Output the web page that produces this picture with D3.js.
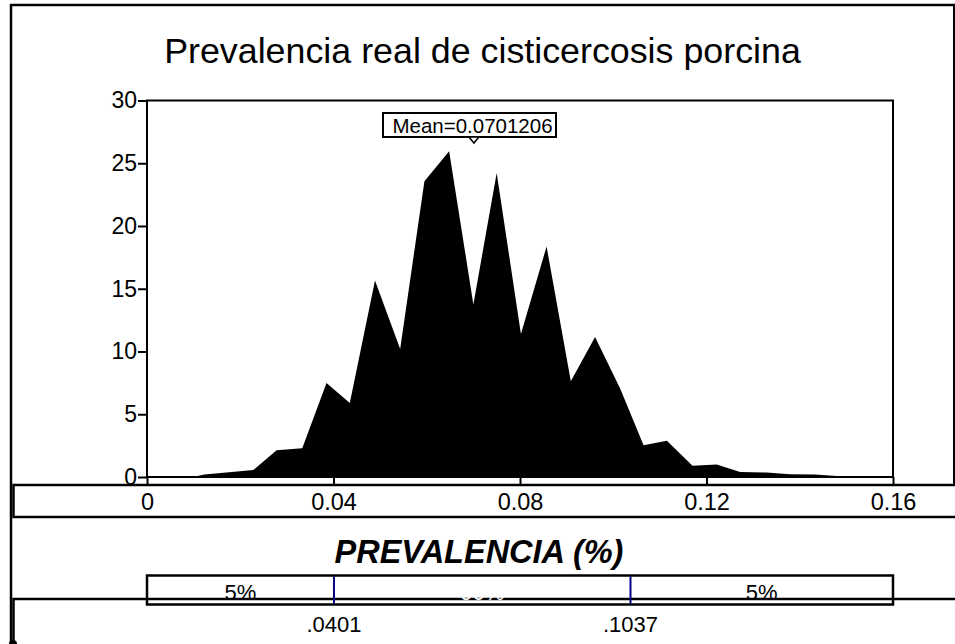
<!DOCTYPE html>
<html>
<head>
<meta charset="utf-8">
<script src="https://cdn.jsdelivr.net/npm/d3@7"></script>
<style>
  body { margin: 0; background: #fff; }
  svg { display: block; font-family: "Liberation Sans", Arial, sans-serif; }
</style>
</head>
<body>
<div id="chart"></div>
<script>
// prevalence values (x) and density (y)
const prevalence = [0, 0.0099, 0.0123, 0.0176, 0.0228, 0.0278, 0.0333, 0.0385, 0.0435, 0.0489,
  0.0543, 0.0595, 0.0648, 0.0700, 0.0750, 0.0802, 0.0857, 0.0909, 0.0961, 0.1015,
  0.1065, 0.1115, 0.1170, 0.1222, 0.1272, 0.1329, 0.1379, 0.1433, 0.1487, 0.16]
const density = [0, 0, 0.2, 0.38, 0.55, 2.13, 2.3, 7.5, 5.9, 15.66,
  10.2, 23.57, 25.96, 13.75, 24.23, 11.4, 18.37, 7.62, 11.15, 7.03,
  2.52, 2.89, 0.9, 1.0, 0.4, 0.35, 0.21, 0.19, 0.05, 0]
const xTicks = [0, 0.04, 0.08, 0.12, 0.16]
const xTickLabels = ["0", "0.04", "0.08", "0.12", "0.16"]
const yTicks = [0, 5, 10, 15, 20, 25, 30]
const meanValue = 0.0701206
const pctCuts = [0.0401, 0.1037]
const pctCutLabels = [".0401", ".1037"]
const pctBands = ["5%", "90%", "5%"]

const width = 955, height = 644
const svg = d3.select("#chart").append("svg")
    .attr("width", width)
    .attr("height", height)

const x = d3.scaleLinear().domain([0, 0.16]).range([147, 893])
const y = d3.scaleLinear().domain([0, 30]).range([477, 100.5])

// outer frame
svg.append("path")
    .attr("d", `M11,644 V5 H955`)
    .attr("fill", "none").attr("stroke", "#000").attr("stroke-width", 2.5)
svg.append("path")
    .attr("d", `M954,5 V485`)
    .attr("fill", "none").attr("stroke", "#000").attr("stroke-width", 2)

svg.append("text")
    .attr("x", 482.5).attr("y", 63)
    .attr("text-anchor", "middle")
    .style("font-size", "35.8px")
    .text("Prevalencia real de cisticercosis porcina")

// x axis band
svg.append("path")
    .attr("d", "M955,485 H13.5 V517 H955")
    .attr("fill", "none").attr("stroke", "#000").attr("stroke-width", 2.5)

// histogram outline as filled area
const area = d3.area()
    .x((d, i) => x(prevalence[i]))
    .y0(y(0))
    .y1(d => y(d))
svg.append("path")
    .datum(density)
    .attr("d", area)
    .attr("fill", "#000")

// plot box
svg.append("rect")
    .attr("x", x(0)).attr("y", y(30))
    .attr("width", x(0.16) - x(0)).attr("height", y(0) - y(30))
    .attr("fill", "none").attr("stroke", "#000").attr("stroke-width", 2)

const yAxis = svg.append("g")
    .attr("transform", `translate(${x(0)},0)`)
    .call(d3.axisLeft(y).tickValues(yTicks).tickSize(9).tickPadding(1).tickFormat(d3.format("d")))
yAxis.select(".domain").remove()
yAxis.selectAll("line").attr("stroke", "#000").attr("stroke-width", 2)
yAxis.selectAll("text")
    .attr("fill", "#000")
    .style("font-size", "23px")
    .style("font-family", "'Liberation Sans', Arial, sans-serif")

const xAxis = svg.append("g")
    .attr("transform", `translate(0,${y(0)})`)
    .call(d3.axisBottom(x).tickValues(xTicks).tickSize(8).tickPadding(8)
        .tickFormat((d, i) => xTickLabels[i]))
xAxis.select(".domain").remove()
xAxis.selectAll("line").attr("stroke", "#000").attr("stroke-width", 2)
xAxis.selectAll("text")
    .attr("fill", "#000")
    .style("font-size", "23.5px")
    .style("font-family", "'Liberation Sans', Arial, sans-serif")

// mean marker
const mx = x(meanValue)
svg.append("rect")
    .attr("x", 383).attr("y", 113)
    .attr("width", 173).attr("height", 24)
    .attr("fill", "#fff").attr("stroke", "#000").attr("stroke-width", 2)
svg.append("text")
    .attr("x", 472.5).attr("y", 133)
    .attr("text-anchor", "middle")
    .style("font-size", "20.5px")
    .text("Mean=" + meanValue)
svg.append("path")
    .attr("d", `M${mx - 5},137 L${mx + 5},137 L${mx},143 Z`)
    .attr("fill", "#fff").attr("stroke", "#000").attr("stroke-width", 1.5)

svg.append("text")
    .attr("x", 479).attr("y", 563)
    .attr("text-anchor", "middle")
    .style("font-size", "32.5px")
    .style("font-weight", "bold")
    .style("font-style", "italic")
    .text("PREVALENCIA (%)")

// lower panel
svg.append("path")
    .attr("d", "M955,599 H13.5 V644")
    .attr("fill", "none").attr("stroke", "#000").attr("stroke-width", 2.5)
svg.append("circle")
    .attr("cx", 13).attr("cy", 644).attr("r", 4).attr("fill", "#000")

// percentile band
const bandEdges = [0, ...pctCuts, 0.16]
svg.selectAll(".band-label")
    .data(pctBands)
    .enter().append("text")
    .attr("class", "band-label")
    .attr("x", (d, i) => (x(bandEdges[i]) + x(bandEdges[i + 1])) / 2)
    .attr("y", 600)
    .attr("text-anchor", "middle")
    .attr("fill", (d, i) => i === 1 ? "#fff" : "#000")
    .style("font-size", "22px")
    .text(d => d)
svg.append("rect")
    .attr("x", x(0)).attr("y", 575.5)
    .attr("width", x(0.16) - x(0)).attr("height", 29)
    .attr("fill", "none").attr("stroke", "#000").attr("stroke-width", 2.5)
svg.selectAll(".cut")
    .data(pctCuts)
    .enter().append("line")
    .attr("class", "cut")
    .attr("x1", d => x(d)).attr("x2", d => x(d))
    .attr("y1", 576.5).attr("y2", 603.5)
    .attr("stroke", "#000080").attr("stroke-width", 2)
svg.selectAll(".cut-label")
    .data(pctCuts)
    .enter().append("text")
    .attr("class", "cut-label")
    .attr("x", d => x(d))
    .attr("y", 632)
    .attr("text-anchor", "middle")
    .style("font-size", "22px")
    .text((d, i) => pctCutLabels[i])
</script>
</body>
</html>
